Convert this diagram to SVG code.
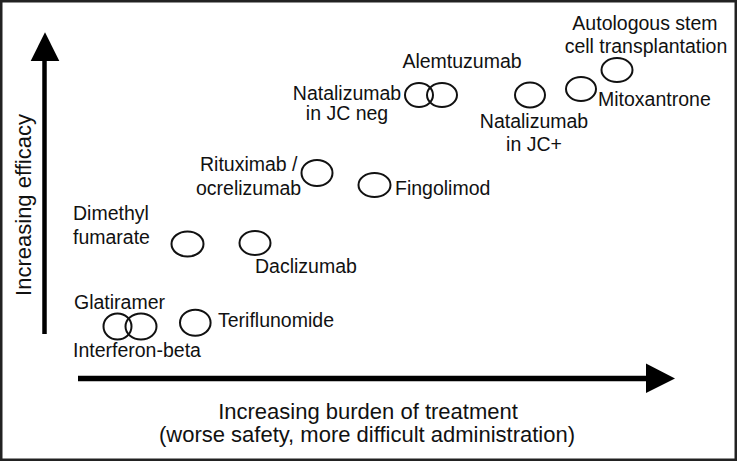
<svg xmlns="http://www.w3.org/2000/svg" width="737" height="461" viewBox="0 0 737 461">
<style>
.e{fill:none;stroke:#111;stroke-width:2}
.t{font-family:"Liberation Sans",Arial,sans-serif;font-size:19.5px;fill:#111}
.m{text-anchor:middle}
.ax{font-family:"Liberation Sans",Arial,sans-serif;font-size:22px;fill:#111;text-anchor:middle}
</style>
<rect x="1.25" y="1.25" width="734.5" height="458.5" fill="#fff" stroke="#222" stroke-width="2.5"/>
<g id="axes">
<line x1="44.5" y1="334" x2="44.5" y2="58" stroke="#000" stroke-width="4.5"/>
<polygon points="30.7,61 59.3,61 45,32.3" fill="#000"/>
<line x1="78" y1="378.5" x2="650" y2="378.5" stroke="#000" stroke-width="5.5"/>
<polygon points="646,363.5 646,393 675,378.5" fill="#000"/>
<text class="ax" transform="translate(30.5,205) rotate(-90)">Increasing efficacy</text>
<text class="ax" x="368" y="419">Increasing burden of treatment</text>
<text class="ax" x="367" y="442">(worse safety, more difficult administration)</text>
</g>
<g id="asct"><ellipse class="e" cx="617" cy="70" rx="15.5" ry="12"/><text class="t m" x="645" y="30">Autologous stem</text><text class="t m" x="646" y="53">cell transplantation</text></g>
<g id="mitoxantrone"><ellipse class="e" cx="581" cy="89" rx="15" ry="12"/><text class="t" x="598" y="106">Mitoxantrone</text></g>
<g id="natalizumab-jcpos"><ellipse class="e" cx="530" cy="95" rx="15" ry="12.5"/><text class="t m" x="534" y="128">Natalizumab</text><text class="t m" x="534" y="151">in JC+</text></g>
<g id="alemtuzumab"><ellipse class="e" cx="442" cy="95" rx="15" ry="12"/><text class="t m" x="462" y="68">Alemtuzumab</text></g>
<g id="natalizumab-jcneg"><ellipse class="e" cx="419" cy="95" rx="14" ry="12"/><text class="t m" x="347" y="100">Natalizumab</text><text class="t m" x="347" y="120">in JC neg</text></g>
<g id="rituximab"><ellipse class="e" cx="317" cy="173" rx="15.5" ry="13"/><text class="t" x="200" y="171">Rituximab /</text><text class="t" x="196" y="195">ocrelizumab</text></g>
<g id="fingolimod"><ellipse class="e" cx="374.5" cy="185" rx="16" ry="12"/><text class="t" x="395" y="195">Fingolimod</text></g>
<g id="dimethyl-fumarate"><ellipse class="e" cx="187.5" cy="244" rx="16" ry="12.5"/><text class="t" x="73" y="220">Dimethyl</text><text class="t" x="73" y="244">fumarate</text></g>
<g id="daclizumab"><ellipse class="e" cx="255" cy="243" rx="15.5" ry="12"/><text class="t" x="255" y="273">Daclizumab</text></g>
<g id="glatiramer"><ellipse class="e" cx="117.5" cy="326.5" rx="14" ry="13"/><text class="t" x="74" y="309">Glatiramer</text></g>
<g id="interferon-beta"><ellipse class="e" cx="141" cy="326.5" rx="15.5" ry="13"/><text class="t" x="73" y="357">Interferon-beta</text></g>
<g id="teriflunomide"><ellipse class="e" cx="195.3" cy="322.7" rx="15.3" ry="13"/><text class="t" x="218" y="327">Teriflunomide</text></g>
</svg>
